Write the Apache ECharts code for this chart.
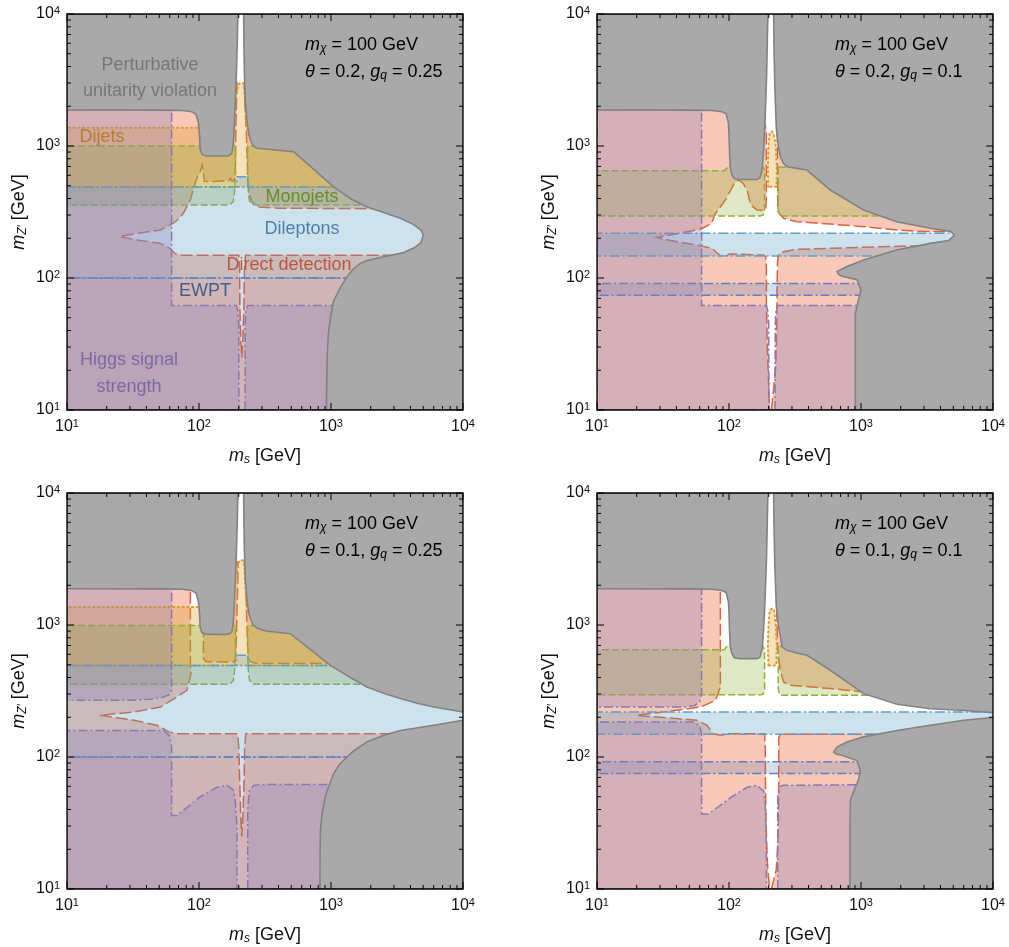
<!DOCTYPE html>
<html><head><meta charset="utf-8">
<script src="https://cdn.jsdelivr.net/npm/echarts@6/dist/echarts.min.js"></script>
<style>html,body{margin:0;padding:0;background:#fff}#c{width:1009px;height:947px}</style>
</head><body><div id="c"></div>
<script>
// ---------- axis ----------
const AX_MIN = 10, AX_MAX = 10000;
const MAJOR_TICKS = [10, 100, 1000, 10000];
const MINOR_TICKS = [20,30,40,50,60,70,80,90,200,300,400,500,600,700,800,900,2000,3000,4000,5000,6000,7000,8000,9000];
const THETA = ['0.2', '0.2', '0.1', '0.1'];
const GQ = ['0.25', '0.1', '0.25', '0.1'];
const MCHI = '100';

// ---------- panel 1 : theta=0.2, gq=0.25 ----------
const P1_GRAY_L = [[10,1875],[50,1870],[75,1860],[88,1820],[95,1740],[99,1500],[101,1200],[102,950],[105,870],[112,842],[125,840],[160,840],[170,848],[177,880],[181,1000],[184,1250],[187,1800],[191,3000],[195,6000],[197,10000],[10,10000]];
const P1_GRAY_R = [[218,10000],[219,6000],[221,3500],[224,2240],[230,1600],[238,1250],[246,1100],[258,1000],[275,960],[320,950],[521,906],[1047,490],[1400,400],[1862,347],[2600,310],[3350,283],[4200,255],[4800,231],[5000,212],[4800,185],[4300,170],[3500,155],[2500,145],[1900,136],[1660,129],[1450,115],[1320,102],[1180,85],[1047,67],[990,50],[955,38],[935,25],[922,10],[10000,10],[10000,10000]];
const P1_DD_L = [[10,10],[10,3000],[194,3000],[192,2000],[190,1200],[189,800],[188,600],[185,545],[178,540],[173,569],[168,545],[150,543],[120,537],[110,540],[106,718],[103,650],[99,600],[97,585],[90,460],[86,390],[80,340],[76,309],[70,280],[64,260],[51,231],[34,218],[25,206],[34,194],[51,183],[60,168],[66,153],[74,149],[200,149],[203,120],[204,60],[207,35],[211,25],[215,35],[219,60],[221,120],[225,149],[3500,149],[3500,10]];
const P1_DD_R = [[220,3000],[223,2000],[228,1300],[231,900],[233,650],[236,500],[242,420],[255,370],[280,345],[400,338],[1000,336],[2000,335],[2500,335],[2500,3000]];
const P1_DIJET = [[10,490],[10,1377],[160,1377],[160,2500],[193,2500],[197,2800],[203,2990],[210,3000],[216,2990],[221,2700],[224,2000],[230,1400],[238,1200],[300,1200],[3000,1200],[3000,490]];
const P1_MONO_L = [[10,357],[10,1000],[189,1000],[189,600],[186,450],[182,380],[172,360],[160,357]];
const P1_MONO_R = [[234,1000],[234,600],[237,430],[242,380],[255,360],[280,357],[2000,357],[2000,1000]];
const P1_DILEP = [[10,100],[10,490],[192,490],[194,586],[234,586],[236,490],[10000,490],[10000,100]];
const P1_EWPT = [[10,10],[10,100],[10000,100],[10000,10]];
const P1_HIGGS_L = [[10,10],[10,1885],[62,1885],[62,62],[192,62],[197,56],[200,45],[201,10]];
const P1_HIGGS_R = [[223,10],[224,45],[227,56],[234,62],[2000,62],[2000,10]];

// ---------- panel 2 : theta=0.2, gq=0.1 ----------
const P2_GRAY_L = [[10,1875],[50,1870],[75,1860],[88,1820],[95,1766],[99,1500],[100,1250],[101,900],[102,697],[105,610],[110,565],[120,558],[163,558],[172,575],[178,658],[181,800],[183,933],[186,1300],[188,1667],[192,3000],[195,6000],[197,10000],[10,10000]];
const P2_GRAY_R = [[218,10000],[219,6000],[222,3000],[228,1400],[236,1000],[245,830],[258,740],[275,697],[327,677],[390,657],[586,464],[1047,327],[1862,267],[3350,238],[4800,225],[5100,210],[4600,192],[3350,183],[1862,163],[1047,137],[783,122],[658,112],[680,106],[718,103],[933,97],[1000,81],[955,68],[906,54],[906,10],[10000,10],[10000,10000]];
const P2_DD_L = [[10,10],[10,3000],[185,3000],[186,1500],[192,1320],[192,400],[190,340],[183,324],[163,327],[150,350],[145,368],[137,464],[128,520],[118,553],[112,530],[108,507],[100,440],[94,390],[85,340],[79,309],[76,280],[74,260],[61,234],[36,212],[28.5,203],[36,192],[57,178],[74,168],[86,147],[94,144],[100,152],[115,152],[183,149],[190,145],[192,120],[192,60],[195,30],[200,15],[203,10]];
const P2_DD_UR = [[232,3000],[232,1320],[234,400],[235,320],[245,300],[259,283],[327,267],[586,256],[1047,245],[1862,231],[3000,225],[4800,224],[4800,3000]];
const P2_DD_LR = [[210,10],[225,20],[230,40],[231,80],[233,130],[236,148],[245,154],[259,158],[327,165],[1047,171],[2500,175],[6000,175],[6000,10]];
const P2_DIJET = [[198,492],[197,700],[199,1000],[203,1250],[210,1290],[218,1250],[226,1000],[230,700],[229,492]];
const P2_MONO_L = [[10,295],[10,650],[92,650],[98,690],[180,700],[186,658],[186,330],[182,300],[172,295]];
const P2_MONO_R = [[236,690],[236,330],[240,303],[250,295],[1500,295],[1500,690]];
const P2_DILEP = [[10,147],[10,218],[6000,218],[6000,147]];
const P2_EWPT = [[10,74],[10,91],[1200,91],[1200,74]];
const P2_HIGGS_L = [[10,10],[10,1885],[62,1885],[62,62],[192,62],[197,56],[200,45],[201,10]];
const P2_HIGGS_R = [[223,10],[224,45],[227,56],[234,62],[2000,62],[2000,10]];

// ---------- panel 3 : theta=0.1, gq=0.25 ----------
const P3_GRAY_L = [[10,1884],[50,1878],[75,1865],[88,1825],[95,1745],[99,1500],[101,1200],[102,960],[105,880],[112,852],[125,849],[160,849],[170,857],[177,890],[181,1000],[184,1250],[187,1800],[191,3000],[195,6000],[197,10000],[10,10000]];
const P3_GRAY_R = [[218,10000],[219,6000],[221,3500],[224,2240],[230,1600],[238,1250],[246,1100],[258,1000],[275,950],[320,900],[492,860],[990,494],[1400,400],[1874,339],[2600,300],[3350,277],[4500,255],[6000,239],[10000,219],[10000,10000]];
const P3_GRAY_B = [[10000,190],[6000,174],[3350,159],[2515,146],[1874,130],[1500,112],[1320,100],[1150,87],[1047,75],[950,58],[906,50],[860,38],[832,28],[826,18],[825,10],[10000,10]];
const P3_DD_L = [[10,10],[10,3000],[86,3000],[86,540],[87,428],[81,320],[68,285],[51,239],[32,219],[17.7,207],[32,190],[48,174],[59,155],[68,150],[196,150],[200,120],[204,60],[207,35],[211,25],[215,35],[219,60],[222,120],[226,150],[3500,150],[3500,10]];
const P3_DD_M = [[108,1000],[108,560],[113,527],[183,525],[189,545],[192,800],[195,1500],[198,2750],[195,3000],[150,3000]];
const P3_DD_R = [[221,3000],[224,2750],[228,1500],[232,800],[236,560],[245,525],[275,512],[990,510],[1200,510],[1200,3000]];
const P3_DIJET = [[10,494],[10,1368],[160,1368],[160,2500],[193,2500],[197,2900],[203,3080],[210,3090],[216,3080],[221,2800],[224,2000],[230,1400],[238,1200],[300,1200],[3000,1200],[3000,494]];
const P3_MONO_L = [[10,355],[10,993],[189,993],[189,600],[186,450],[182,380],[172,358],[160,355]];
const P3_MONO_R = [[234,993],[234,600],[237,430],[242,380],[255,358],[280,355],[2000,355],[2000,993]];
const P3_DILEP = [[10,100],[10,494],[192,494],[194,589],[234,589],[236,494],[10000,494],[10000,100]];
const P3_EWPT = [[10,10],[10,100],[10000,100],[10000,10]];
const P3_HIGGS_U = [[10,269],[10,1895],[62,1895],[62,320],[59,295],[54,285],[43,274],[30,269]];
const P3_HIGGS_L = [[10,10],[10,159],[54,159],[60,145],[62,119],[62,36],[68,36],[80,41],[102,50],[137,59],[163,61],[183,56],[188,47],[194,30],[194,10]];
const P3_HIGGS_R = [[234,10],[234,40],[240,55],[259,61],[300,62],[2000,62],[2000,10]];

// ---------- panel 4 : theta=0.1, gq=0.1 ----------
const P4_GRAY_L = [[10,1884],[50,1878],[75,1865],[88,1825],[95,1766],[99,1500],[100,1250],[101,900],[102,702],[105,610],[110,565],[120,556],[163,556],[172,573],[178,658],[181,800],[183,933],[186,1300],[188,1667],[192,3000],[195,6000],[197,10000],[10,10000]];
const P4_GRAY_R = [[218,10000],[219,6000],[222,3000],[228,1400],[236,1000],[245,830],[252,680],[275,643],[327,614],[390,589],[586,454],[1047,302],[1874,251],[3350,232],[6000,225],[10000,217],[10000,10000]];
const P4_GRAY_B = [[10000,199],[6000,190],[3350,174],[1874,159],[1047,142],[783,130],[658,119],[621,109],[650,105],[700,104],[933,94],[988,79],[960,68],[933,63],[880,55],[832,47],[826,30],[825,10],[10000,10]];
const P4_DD_L = [[10,10],[10,3000],[86,3000],[86,339],[79,269],[61,239],[32,219],[19.9,207],[32,199],[57,190],[68,174],[76,150],[86,146],[102,150],[186,150],[188,120],[189,60],[191,30],[196,15],[203,10]];
const P4_DD_UR = [[230,3000],[230,1350],[233,700],[236,590],[245,450],[259,370],[292,349],[586,330],[1047,311],[1300,305],[1300,3000]];
const P4_DD_LR = [[210,10],[228,14],[236,25],[238,60],[238,140],[245,149],[1250,149],[1600,149],[1600,10]];
const P4_DIJET = [[199,494],[197,700],[199,1000],[204,1300],[212,1330],[220,1300],[226,1000],[230,700],[228,494]];
const P4_MONO_L = [[10,296],[10,650],[92,650],[98,700],[180,700],[186,640],[186,330],[182,300],[175,296]];
const P4_MONO_R = [[236,690],[236,330],[240,300],[250,293],[1500,293],[1500,690]];
const P4_DILEP = [[10,149],[10,219],[10000,219],[10000,149]];
const P4_EWPT = [[10,75],[10,92],[1200,92],[1200,75]];
const P4_HIGGS_U = [[10,239],[10,1895],[62,1895],[62,300],[60,262],[55,245],[45,239]];
const P4_HIGGS_L = [[10,10],[10,184],[54,184],[60,172],[62,150],[62,37],[70,37],[102,49],[137,59],[163,61],[183,55],[188,45],[192,20],[192,10]];
const P4_HIGGS_R = [[234,10],[234,50],[245,60],[259,61],[2000,62],[2000,10]];

// ---------- assembly ----------
const PANELS = [
  {gray:[P1_GRAY_L,P1_GRAY_R], dd:[P1_DD_L,P1_DD_R], dijet:[P1_DIJET], mono:[P1_MONO_L,P1_MONO_R], dilep:[P1_DILEP], ewpt:[P1_EWPT], higgs:[P1_HIGGS_L,P1_HIGGS_R]},
  {gray:[P2_GRAY_L,P2_GRAY_R], dd:[P2_DD_L,P2_DD_UR,P2_DD_LR], dijet:[P2_DIJET], mono:[P2_MONO_L,P2_MONO_R], dilep:[P2_DILEP], ewpt:[P2_EWPT], higgs:[P2_HIGGS_L,P2_HIGGS_R]},
  {gray:[P3_GRAY_L,P3_GRAY_R,P3_GRAY_B], dd:[P3_DD_L,P3_DD_M,P3_DD_R], dijet:[P3_DIJET], mono:[P3_MONO_L,P3_MONO_R], dilep:[P3_DILEP], ewpt:[P3_EWPT], higgs:[P3_HIGGS_U,P3_HIGGS_L,P3_HIGGS_R]},
  {gray:[P4_GRAY_L,P4_GRAY_R,P4_GRAY_B], dd:[P4_DD_L,P4_DD_UR,P4_DD_LR], dijet:[P4_DIJET], mono:[P4_MONO_L,P4_MONO_R], dilep:[P4_DILEP], ewpt:[P4_EWPT], higgs:[P4_HIGGS_U,P4_HIGGS_L,P4_HIGGS_R]}
];
const GRIDS = [
  {left:67, top:14}, {left:597, top:14}, {left:67, top:493}, {left:597, top:493}
];
const GW = 396, GH = 396;
const FONT = '"Liberation Sans", Arial, Helvetica, sans-serif';

const STYLE = {
  dd:    {fill:'rgba(235,98,53,0.35)',  stroke:'#e0603a', dash:[12,4], w:1.5},
  dijet: {fill:'rgba(225,156,36,0.30)', stroke:'#e39b25', dash:[1.2,3.5], w:2, cap:'round'},
  mono:  {fill:'rgba(143,176,50,0.29)', stroke:'#8fb032', dash:[7,3], w:1.5},
  dilep: {fill:'rgba(93,158,199,0.30)', stroke:'#5d9ec7', dash:[10,3,2,3], w:1.5},
  ewpt:  {fill:'rgba(94,129,181,0.25)', stroke:'#5e7fc0', dash:[9,3,2,3], w:1.5},
  higgs: {fill:'rgba(140,128,185,0.32)',stroke:'#8778b3', dash:[9,3,2,3], w:1.5},
  gray:  {fill:'#a9a9a9', stroke:'#828282', dash:null, w:1.6}
};
const LAYER_ORDER = ['dd','dijet','mono','dilep','ewpt','higgs','gray'];

function polySeries(gi, pts, st, z) {
  return {
    type:'custom', coordinateSystem:'cartesian2d', xAxisIndex:gi, yAxisIndex:gi,
    data: pts, encode:{x:0, y:1}, clip:true, z:z, silent:true, animation:false,
    renderItem: function (params, api) {
      if (params.dataIndex !== 0) return null;
      const points = pts.map(p => api.coord(p));
      return {type:'polygon', shape:{points:points},
        style:{fill:st.fill, stroke:st.stroke, lineWidth:st.w, lineDash:st.dash, lineCap:st.cap || 'butt'}};
    }
  };
}
function frameSeries(gi) {
  return {
    type:'custom', coordinateSystem:'cartesian2d', xAxisIndex:gi, yAxisIndex:gi,
    data:[[AX_MIN, AX_MIN]], encode:{x:0,y:1}, clip:false, z:30, silent:true, animation:false,
    renderItem: function (params, api) {
      const bl = api.coord([AX_MIN, AX_MIN]), tr = api.coord([AX_MAX, AX_MAX]);
      const x0 = bl[0], y0 = bl[1], x1 = tr[0], y1 = tr[1];
      const kids = [];
      const ln = (a,b,c,d) => kids.push({type:'line', shape:{x1:a,y1:b,x2:c,y2:d}, style:{stroke:'#000', lineWidth:1}});
      const ticks = MAJOR_TICKS.map(v => [v, 7]).concat(MINOR_TICKS.map(v => [v, 4]));
      ticks.forEach(t => {
        const px = api.coord([t[0], AX_MIN])[0];
        const py = api.coord([AX_MIN, t[0]])[1];
        ln(px, y0, px, y0 - t[1]); ln(px, y1, px, y1 + t[1]);
        ln(x0, py, x0 + t[1], py); ln(x1, py, x1 - t[1], py);
      });
      kids.push({type:'rect', shape:{x:x0, y:y1, width:x1-x0, height:y0-y1}, style:{fill:'none', stroke:'#000', lineWidth:1.3}});
      return {type:'group', children:kids};
    }
  };
}

const series = [];
PANELS.forEach((p, gi) => {
  LAYER_ORDER.forEach((key, li) => {
    p[key].forEach(pts => series.push(polySeries(gi, pts, STYLE[key], 2 + li)));
  });
  series.push(frameSeries(gi));
});

const TICK_RICH = {
  b: {fontSize:16, fontFamily:FONT, color:'#111', lineHeight:18},
  s: {fontSize:11, fontFamily:FONT, color:'#111', lineHeight:11, verticalAlign:'top'}
};
const tickFmt = v => '{b|10}{s|' + Math.round(Math.log10(v)) + '}';
const mkRich = (color) => ({
  i: {fontSize:18, fontFamily:FONT, fontStyle:'italic', color:color, lineHeight:20},
  n: {fontSize:18, fontFamily:FONT, color:color, lineHeight:20},
  sub: {fontSize:12, fontFamily:FONT, fontStyle:'italic', color:color, lineHeight:12, verticalAlign:'bottom'}
});
const NAME_RICH = mkRich('#111');
const ANNOT_RICH = mkRich('#000');

const grid = GRIDS.map(g => ({left:g.left, top:g.top, width:GW, height:GH, containLabel:false}));
const xAxis = GRIDS.map((g, i) => ({
  type:'log', logBase:10, gridIndex:i, min:AX_MIN, max:AX_MAX,
  axisLine:{show:false}, axisTick:{show:false}, splitLine:{show:false}, minorTick:{show:false},
  axisLabel:{formatter:tickFmt, rich:TICK_RICH, margin:8, showMinLabel:true, showMaxLabel:true},
  name:'{i|m}{sub|s}{n| [GeV]}', nameLocation:'middle', nameGap:36, nameTextStyle:{rich:NAME_RICH}
}));
const yAxis = GRIDS.map((g, i) => ({
  type:'log', logBase:10, gridIndex:i, min:AX_MIN, max:AX_MAX,
  axisLine:{show:false}, axisTick:{show:false}, splitLine:{show:false}, minorTick:{show:false},
  axisLabel:{formatter:tickFmt, rich:TICK_RICH, margin:7, showMinLabel:true, showMaxLabel:true},
  name:'{i|m}{sub|Z′}{n| [GeV]}', nameLocation:'middle', nameGap:38, nameTextStyle:{rich:NAME_RICH}
}));

const graphic = [];
GRIDS.forEach((g, i) => {
  graphic.push({type:'text', x:g.left + 238, y:g.top + 31, z:50, silent:true,
    style:{text:'{i|m}{sub|χ}{n| = ' + MCHI + ' GeV}', rich:ANNOT_RICH, align:'left', verticalAlign:'middle'}});
  graphic.push({type:'text', x:g.left + 238, y:g.top + 58, z:50, silent:true,
    style:{text:'{i|θ}{n| = ' + THETA[i] + ', }{i|g}{sub|q}{n| = ' + GQ[i] + '}', rich:ANNOT_RICH, align:'left', verticalAlign:'middle'}});
});
const LABELS = [
  ['Perturbative', 150, 65, '#767676'],
  ['unitarity violation', 150, 91, '#767676'],
  ['Dijets', 102, 137, '#b87c30'],
  ['Monojets', 302, 197, '#6b8a2c'],
  ['Dileptons', 302, 229, '#4d80a8'],
  ['Direct detection', 289, 265, '#c0533a'],
  ['EWPT', 205, 291, '#3f5d8f'],
  ['Higgs signal', 129, 360, '#7a68a6'],
  ['strength', 129, 387, '#7a68a6']
];
LABELS.forEach(l => graphic.push({type:'text', x:l[1], y:l[2], z:50, silent:true,
  style:{text:l[0], fill:l[3], font:'18px ' + FONT, align:'center', verticalAlign:'middle'}}));

const chart = echarts.init(document.getElementById('c'), null, {renderer:'canvas'});
chart.setOption({animation:false, backgroundColor:'#fff', grid, xAxis, yAxis, series, graphic});
</script></body></html>
